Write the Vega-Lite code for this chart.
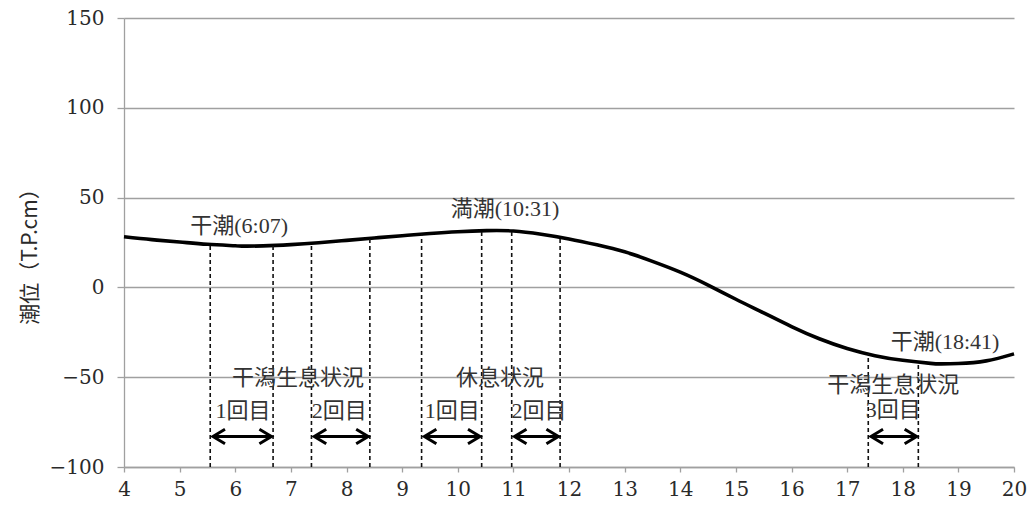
{
  "$schema": "https://vega.github.io/schema/vega-lite/v6.json",
  "autosize": {"type": "none"},
  "width": 890,
  "height": 449,
  "padding": {"left": 124, "top": 18, "right": 15, "bottom": 44},
  "background": "white",
  "config": {
    "view": {"stroke": null},
    "axis": {"labelFont": "DejaVu Serif", "labelFontSize": 20}
  },
  "datasets": {
    "tide": [
      {"hour": 4.0, "level": 28.2},
      {"hour": 4.5, "level": 26.6},
      {"hour": 5.0, "level": 25.3},
      {"hour": 5.5, "level": 24.0},
      {"hour": 6.0, "level": 23.2},
      {"hour": 6.12, "level": 23.0},
      {"hour": 6.5, "level": 23.1},
      {"hour": 7.0, "level": 23.8},
      {"hour": 7.5, "level": 24.9},
      {"hour": 8.0, "level": 26.2},
      {"hour": 8.5, "level": 27.5},
      {"hour": 9.0, "level": 28.8},
      {"hour": 9.5, "level": 30.0},
      {"hour": 10.0, "level": 31.0},
      {"hour": 10.52, "level": 31.6},
      {"hour": 11.0, "level": 31.4},
      {"hour": 11.5, "level": 29.6},
      {"hour": 12.0, "level": 27.0},
      {"hour": 12.5, "level": 23.7},
      {"hour": 13.0, "level": 19.8},
      {"hour": 13.5, "level": 14.5},
      {"hour": 14.0, "level": 8.5},
      {"hour": 14.5, "level": 1.3},
      {"hour": 15.0, "level": -6.6},
      {"hour": 15.5, "level": -14.2},
      {"hour": 16.0, "level": -21.8},
      {"hour": 16.5, "level": -28.6},
      {"hour": 17.0, "level": -34.0},
      {"hour": 17.5, "level": -38.0},
      {"hour": 18.0, "level": -40.6},
      {"hour": 18.5, "level": -42.3},
      {"hour": 18.68, "level": -42.6},
      {"hour": 19.0, "level": -42.4},
      {"hour": 19.5, "level": -40.9},
      {"hour": 20.0, "level": -37.0}
    ],
    "cuts": [
      {"hour": 5.55, "top": 23.9, "base": -100},
      {"hour": 6.68, "top": 23.3, "base": -100},
      {"hour": 7.37, "top": 24.6, "base": -100},
      {"hour": 8.42, "top": 27.3, "base": -100},
      {"hour": 9.35, "top": 29.6, "base": -100},
      {"hour": 10.43, "top": 31.5, "base": -100},
      {"hour": 10.97, "top": 31.4, "base": -100},
      {"hour": 11.84, "top": 27.9, "base": -100},
      {"hour": 17.38, "top": -37.1, "base": -100},
      {"hour": 18.28, "top": -41.6, "base": -100}
    ],
    "arrows": [
      {"start": 5.6, "end": 6.65, "level": -83},
      {"start": 7.42, "end": 8.39, "level": -83},
      {"start": 9.4, "end": 10.4, "level": -83},
      {"start": 11.02, "end": 11.81, "level": -83},
      {"start": 17.43, "end": 18.25, "level": -83}
    ],
    "heads": [
      {"hour": 5.6, "level": -83, "dir": "left"},
      {"hour": 6.65, "level": -83, "dir": "right"},
      {"hour": 7.42, "level": -83, "dir": "left"},
      {"hour": 8.39, "level": -83, "dir": "right"},
      {"hour": 9.4, "level": -83, "dir": "left"},
      {"hour": 10.4, "level": -83, "dir": "right"},
      {"hour": 11.02, "level": -83, "dir": "left"},
      {"hour": 11.81, "level": -83, "dir": "right"},
      {"hour": 17.43, "level": -83, "dir": "left"},
      {"hour": 18.25, "level": -83, "dir": "right"}
    ],
    "labels": [
      {"hour": 6.07, "level": 34.3, "text": "干潮(6:07)"},
      {"hour": 10.85, "level": 43.5, "text": "満潮(10:31)"},
      {"hour": 18.76, "level": -30.5, "text": "干潮(18:41)"},
      {"hour": 7.13, "level": -50.5, "text": "干潟生息状況"},
      {"hour": 6.14, "level": -68.9, "text": "1回目"},
      {"hour": 7.87, "level": -68.9, "text": "2回目"},
      {"hour": 10.76, "level": -50.5, "text": "休息状況"},
      {"hour": 9.9, "level": -68.9, "text": "1回目"},
      {"hour": 11.46, "level": -68.9, "text": "2回目"},
      {"hour": 17.83, "level": -54.6, "text": "干潟生息状況"},
      {"hour": 17.83, "level": -68.5, "text": "3回目"}
    ]
  },
  "layer": [
    {
      "data": {"name": "tide"},
      "mark": {"type": "line", "color": "black", "strokeWidth": 3.6, "interpolate": "natural"},
      "encoding": {
        "x": {
          "field": "hour", "type": "quantitative",
          "scale": {"domain": [4, 20], "nice": false, "zero": false},
          "axis": {
            "values": [4,5,6,7,8,9,10,11,12,13,14,15,16,17,18,19,20], "format": "d",
            "grid": false, "title": null, "tickSize": 5, "labelPadding": 7, "labelFlush": false,
            "labelFont": "DejaVu Serif", "labelFontSize": 20, "labelColor": "#2a2a2a",
            "domainColor": "#a0a0a0", "domainWidth": 1.3, "tickColor": "#a0a0a0", "tickWidth": 1.3
          }
        },
        "y": {
          "field": "level", "type": "quantitative",
          "scale": {"domain": [-100, 150], "nice": false, "zero": false},
          "axis": {
            "values": [-100,-50,0,50,100,150], "format": "d",
            "title": "潮位（T.P.cm）", "titleFont": "Noto Sans CJK JP", "titleFontSize": 21, "titleFontWeight": "normal", "titleColor": "#2a2a2a",
            "tickSize": 7, "labelPadding": 13,
            "titleX": -94, "titleY": 233, "titleBaseline": "middle", "titleAlign": "center", "titleAngle": -90,
            "labelFont": "DejaVu Serif", "labelFontSize": 20, "labelColor": "#2a2a2a",
            "gridColor": "#a0a0a0", "gridWidth": 1.3,
            "domainColor": "#a0a0a0", "domainWidth": 1.3, "tickColor": "#a0a0a0", "tickWidth": 1.3
          }
        }
      }
    },
    {
      "data": {"name": "cuts"},
      "mark": {"type": "rule", "color": "#111", "strokeWidth": 1.6, "strokeDash": [4, 3]},
      "encoding": {
        "x": {"field": "hour", "type": "quantitative"},
        "y": {"field": "base", "type": "quantitative"},
        "y2": {"field": "top"}
      }
    },
    {
      "data": {"name": "arrows"},
      "mark": {"type": "rule", "color": "black", "strokeWidth": 3},
      "encoding": {
        "x": {"field": "start", "type": "quantitative"},
        "x2": {"field": "end"},
        "y": {"field": "level", "type": "quantitative"}
      }
    },
    {
      "data": {"name": "heads"},
      "mark": {"type": "point", "filled": false, "stroke": "black", "strokeWidth": 3, "size": 576, "opacity": 1},
      "encoding": {
        "x": {"field": "hour", "type": "quantitative"},
        "y": {"field": "level", "type": "quantitative"},
        "shape": {
          "field": "dir", "type": "nominal",
          "scale": {"domain": ["left", "right"], "range": ["M1,-0.6L0,0L1,0.6", "M-1,-0.6L0,0L-1,0.6"]},
          "legend": null
        }
      }
    },
    {
      "data": {"name": "labels"},
      "mark": {"type": "text", "font": "Times New Roman, Liberation Serif, Noto Sans CJK JP, serif", "fontSize": 22, "color": "#333", "align": "center", "baseline": "middle"},
      "encoding": {
        "x": {"field": "hour", "type": "quantitative"},
        "y": {"field": "level", "type": "quantitative"},
        "text": {"field": "text"}
      }
    }
  ]
}
